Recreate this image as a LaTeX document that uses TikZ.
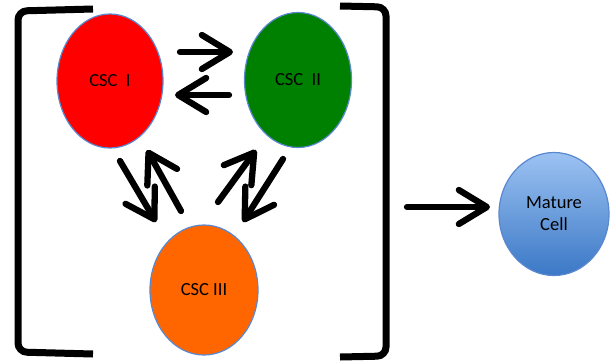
\documentclass[tikz,border=0pt]{standalone}
\usepackage{fontspec}
\setmainfont{Carlito}
\usetikzlibrary{shapes.geometric,arrows.meta}
\definecolor{cellborder}{HTML}{5A88D0}
\definecolor{cscred}{HTML}{FF0000}
\definecolor{cscgreen}{HTML}{008000}
\definecolor{cscorange}{HTML}{FF6600}
\definecolor{maturetop}{HTML}{9CC2F2}
\definecolor{maturebot}{HTML}{3B78C6}
\tikzset{
  cell/.style={ellipse, draw=cellborder, line width=1.2pt, inner sep=0pt,
    font=\fontsize{18.5}{22}\selectfont, align=center},
  bigarrow/.style={line width=6.3pt, line cap=round, line join=round,
    -{Straight Barb[length=28pt 0 0, width=34pt 0 0, line cap=round, line join=round]}},
  bracket/.style={line width=7pt, rounded corners=9pt}
}
\begin{document}
\begin{tikzpicture}[x=1pt,y=-1pt]
\useasboundingbox (0,0) rectangle (613,362);
% cells
\node[cell, fill=cscred, minimum width=106pt, minimum height=134pt] (c1) at (110,81) {CSC\ \ I};
\node[cell, fill=cscgreen, minimum width=107pt, minimum height=135pt] (c2) at (298,80) {CSC\ \ II};
\node[cell, fill=cscorange, minimum width=108pt, minimum height=130pt] (c3) at (204,290) {CSC III};
\node[cell, top color=maturetop, bottom color=maturebot, minimum width=110pt, minimum height=123pt] (m) at (554,214) {Mature\\Cell};
% brackets
\coordinate (lb1) at (93,9);
\coordinate (lb2) at (18,11);
\coordinate (lb3) at (18,352);
\coordinate (lb4) at (93,354);
\draw[bracket] (lb1) -- (lb2) -- (lb3) -- (lb4);
\coordinate (rb1) at (340,6);
\coordinate (rb2) at (386,7);
\coordinate (rb3) at (386,356);
\coordinate (rb4) at (340,357);
\draw[bracket] (rb1) -- (rb2) -- (rb3) -- (rb4);
% arrow end points
\coordinate (a1s) at (180,52);  \coordinate (a1e) at (233,52);
\coordinate (a2s) at (229,95);  \coordinate (a2e) at (175,95);
\coordinate (a3s) at (120,161); \coordinate (a3e) at (156,222);
\coordinate (a4s) at (181,211); \coordinate (a4e) at (147,150);
\coordinate (a5s) at (218,202); \coordinate (a5e) at (256,150);
\coordinate (a6s) at (283,159); \coordinate (a6e) at (243,222);
\coordinate (a7s) at (407,207); \coordinate (a7e) at (490,207);
\draw[bigarrow] (a1s) -- (a1e);
\draw[bigarrow] (a2s) -- (a2e);
\draw[bigarrow] (a3s) -- (a3e);
\draw[bigarrow] (a4s) -- (a4e);
\draw[bigarrow] (a5s) -- (a5e);
\draw[bigarrow] (a6s) -- (a6e);
\draw[bigarrow] (a7s) -- (a7e);
\end{tikzpicture}
\end{document}
